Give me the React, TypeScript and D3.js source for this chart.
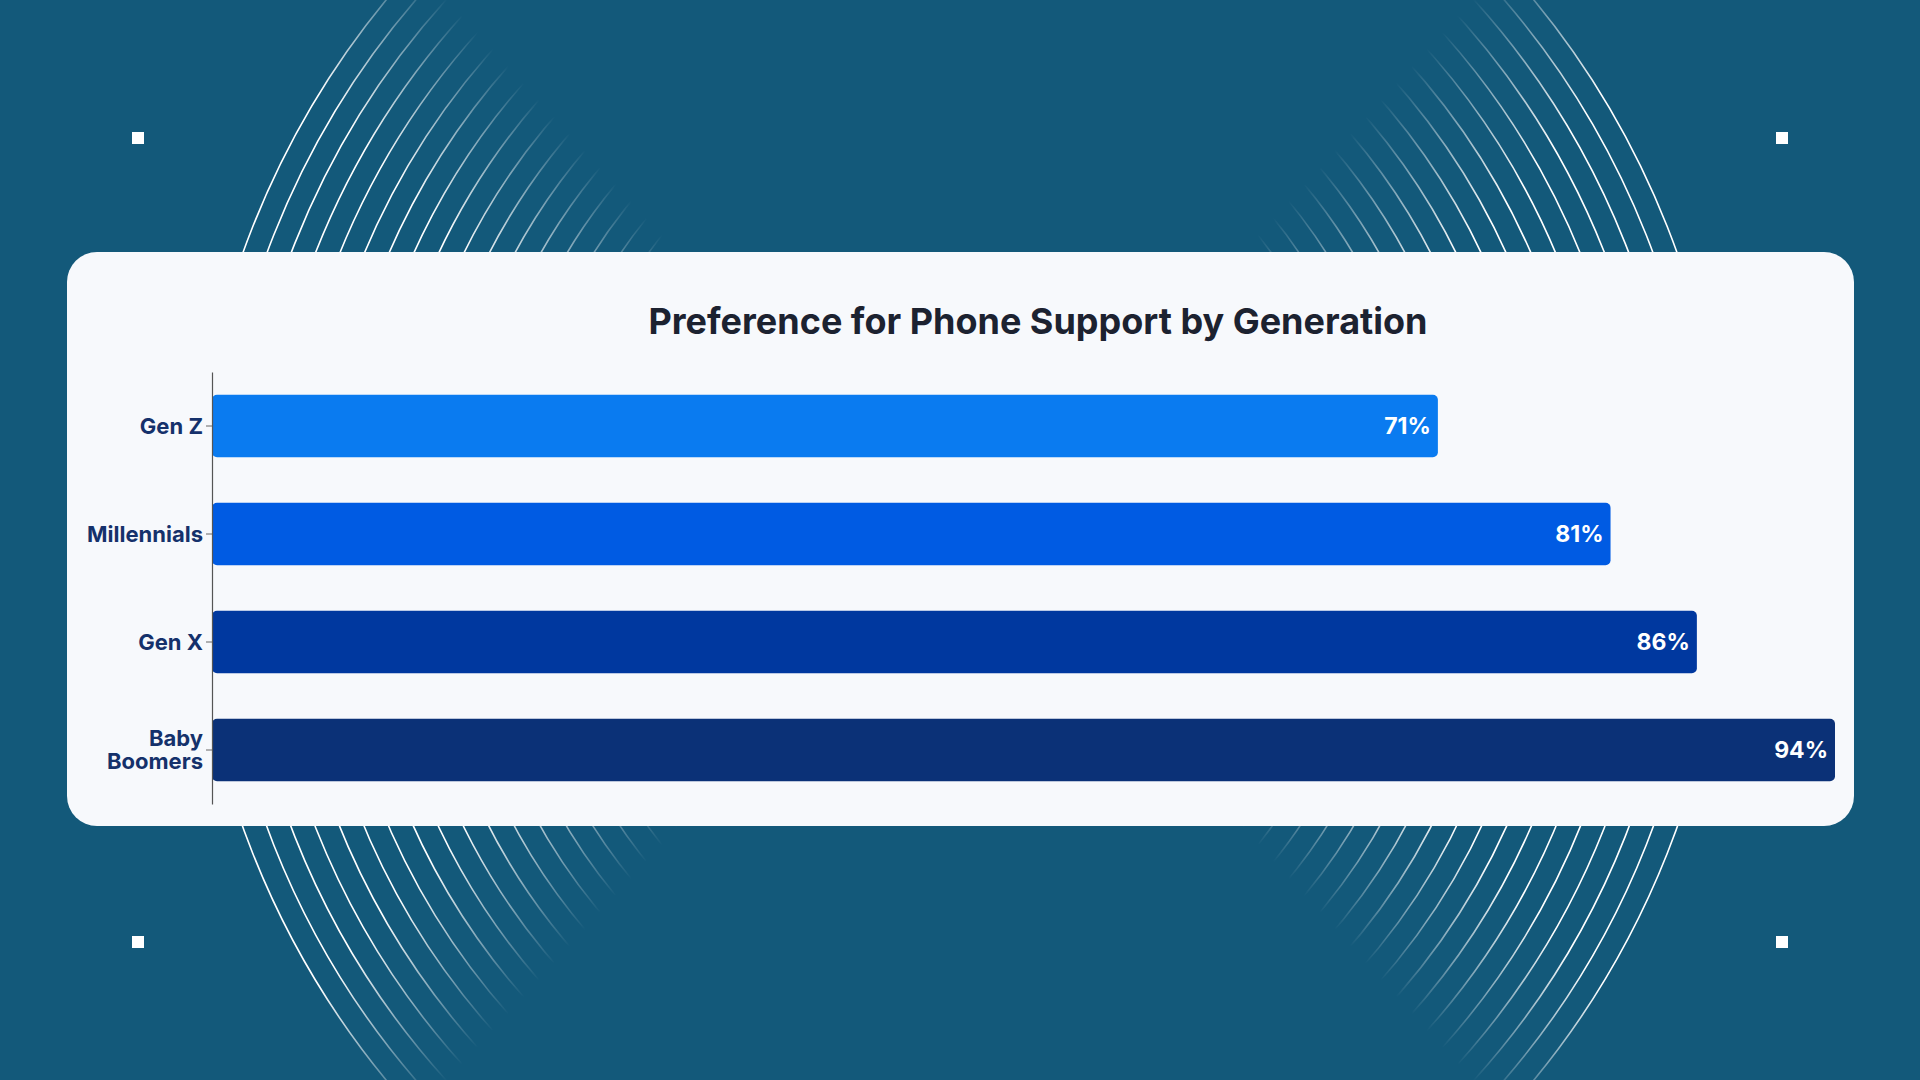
import * as d3 from "d3";
import { useEffect, useRef } from "react";

// chart data
const generations = ["Gen Z", "Millennials", "Gen X", "Baby Boomers"];
const phoneShare = [71, 81, 86, 94];
const tickLines = [["Gen Z"], ["Millennials"], ["Gen X"], ["Baby", "Boomers"]];
const barColors = ["#0a7bf0", "#005be3", "#00389f", "#0b3177"];
const title = "Preference for Phone Support by Generation";

const W = 1920;
const H = 1080;
const FONT = "Inter, 'Noto Sans', sans-serif";

const App = () => {
  const svgRef = useRef<SVGSVGElement>(null);

  useEffect(() => {
    const svg = d3.select(svgRef.current);
    svg.selectAll("*").remove();

    // background
    svg.append("rect").attr("width", W).attr("height", H).attr("fill", "#13597a");

    const defs = svg.append("defs");

    // fading masks for the concentric arcs (one wedge per side)
    const fade = 160;
    const nx = 0.74;
    const ny = 0.673;
    const sides = [
      { id: "L", cx: 1044, vx: 940, dir: -1 },
      { id: "R", cx: W - 1044, vx: W - 940, dir: 1 },
    ];
    sides.forEach((s) => {
      [1, -1].forEach((sy) => {
        const gid = `g${s.id}${sy}`;
        const grad = defs
          .append("linearGradient")
          .attr("id", gid)
          .attr("gradientUnits", "userSpaceOnUse")
          .attr("x1", s.vx)
          .attr("y1", 540)
          .attr("x2", s.vx + s.dir * nx * fade)
          .attr("y2", 540 + sy * ny * fade);
        grad.append("stop").attr("offset", 0).attr("stop-color", "#000");
        grad.append("stop").attr("offset", 0.45).attr("stop-color", "#777");
        grad.append("stop").attr("offset", 1).attr("stop-color", "#fff");
        defs
          .append("mask")
          .attr("id", `m${s.id}${sy}`)
          .attr("maskUnits", "userSpaceOnUse")
          .attr("x", 0)
          .attr("y", 0)
          .attr("width", W)
          .attr("height", H)
          .append("rect")
          .attr("width", W)
          .attr("height", H)
          .attr("fill", `url(#${gid})`);
      });

      const radii = d3.range(18).map((i) => 466 + i * 22.65);
      svg
        .append("g")
        .attr("mask", `url(#m${s.id}1)`)
        .append("g")
        .attr("mask", `url(#m${s.id}-1)`)
        .selectAll("circle")
        .data(radii)
        .join("circle")
        .attr("cx", s.cx)
        .attr("cy", 540)
        .attr("r", (d) => d)
        .attr("fill", "none")
        .attr("stroke", "#fff")
        .attr("stroke-width", 1.6);
    });

    // corner squares
    const sq = [
      [132, 132],
      [W - 144, 132],
      [132, H - 144],
      [W - 144, H - 144],
    ];
    svg
      .selectAll("rect.sq")
      .data(sq)
      .join("rect")
      .attr("class", "sq")
      .attr("x", (d) => d[0])
      .attr("y", (d) => d[1])
      .attr("width", 12)
      .attr("height", 12)
      .attr("fill", "#fff");

    // card
    svg
      .append("rect")
      .attr("x", 67)
      .attr("y", 252)
      .attr("width", 1787)
      .attr("height", 574)
      .attr("rx", 30)
      .attr("fill", "#f7f9fc");

    svg
      .append("text")
      .attr("x", 1038)
      .attr("y", 334)
      .attr("text-anchor", "middle")
      .attr("font-family", FONT)
      .attr("font-size", 36)
      .attr("font-weight", 700)
      .attr("fill", "#1c2230")
      .text(title);

    const rows = generations.map((g, i) => ({ g, v: phoneShare[i], c: barColors[i] }));

    const x = d3
      .scaleLinear()
      .domain([0, d3.max(phoneShare) as number])
      .range([212, 1835]);

    const y = d3
      .scaleBand()
      .domain(generations)
      .range([372, 804])
      .paddingInner(0.42)
      .paddingOuter(0.21);

    // bars
    svg
      .selectAll("rect.bar")
      .data(rows)
      .join("rect")
      .attr("class", "bar")
      .attr("x", x(0))
      .attr("y", (d) => y(d.g) as number)
      .attr("width", (d) => x(d.v) - x(0))
      .attr("height", y.bandwidth())
      .attr("rx", 5)
      .attr("fill", (d) => d.c);

    // value labels
    svg
      .selectAll("text.val")
      .data(rows)
      .join("text")
      .attr("class", "val")
      .attr("x", (d) => x(d.v) - 7)
      .attr("y", (d) => (y(d.g) as number) + y.bandwidth() / 2)
      .attr("dy", "0.36em")
      .attr("text-anchor", "end")
      .attr("font-family", FONT)
      .attr("font-size", 23)
      .attr("font-weight", 700)
      .attr("fill", "#fff")
      .text((d) => `${d.v}%`);

    // y axis
    const axis = svg
      .append("g")
      .attr("transform", `translate(${x(0)},0)`)
      .call(d3.axisLeft(y).tickSize(6).tickSizeOuter(0));
    axis.select(".domain").attr("stroke", "#555").attr("stroke-width", 1.2);
    axis.selectAll(".tick line").attr("stroke", "#666");
    axis
      .selectAll<SVGTextElement, string>(".tick text")
      .attr("font-family", FONT)
      .attr("font-size", 22)
      .attr("font-weight", 700)
      .attr("fill", "#15316b")
      .attr("x", -9)
      .each(function (d) {
        const lines = tickLines[generations.indexOf(d)];
        const t = d3.select(this);
        t.text(null).attr("dy", null);
        lines.forEach((ln, k) => {
          t.append("tspan")
            .attr("x", -9)
            .attr("dy", k === 0 ? `${0.36 - (lines.length - 1) * 0.52}em` : "1.04em")
            .text(ln);
        });
      });
  }, []);

  return (
    <svg
      ref={svgRef}
      width={W}
      height={H}
      style={{ position: "fixed", left: 0, top: 0 }}
    />
  );
};

export default App;
